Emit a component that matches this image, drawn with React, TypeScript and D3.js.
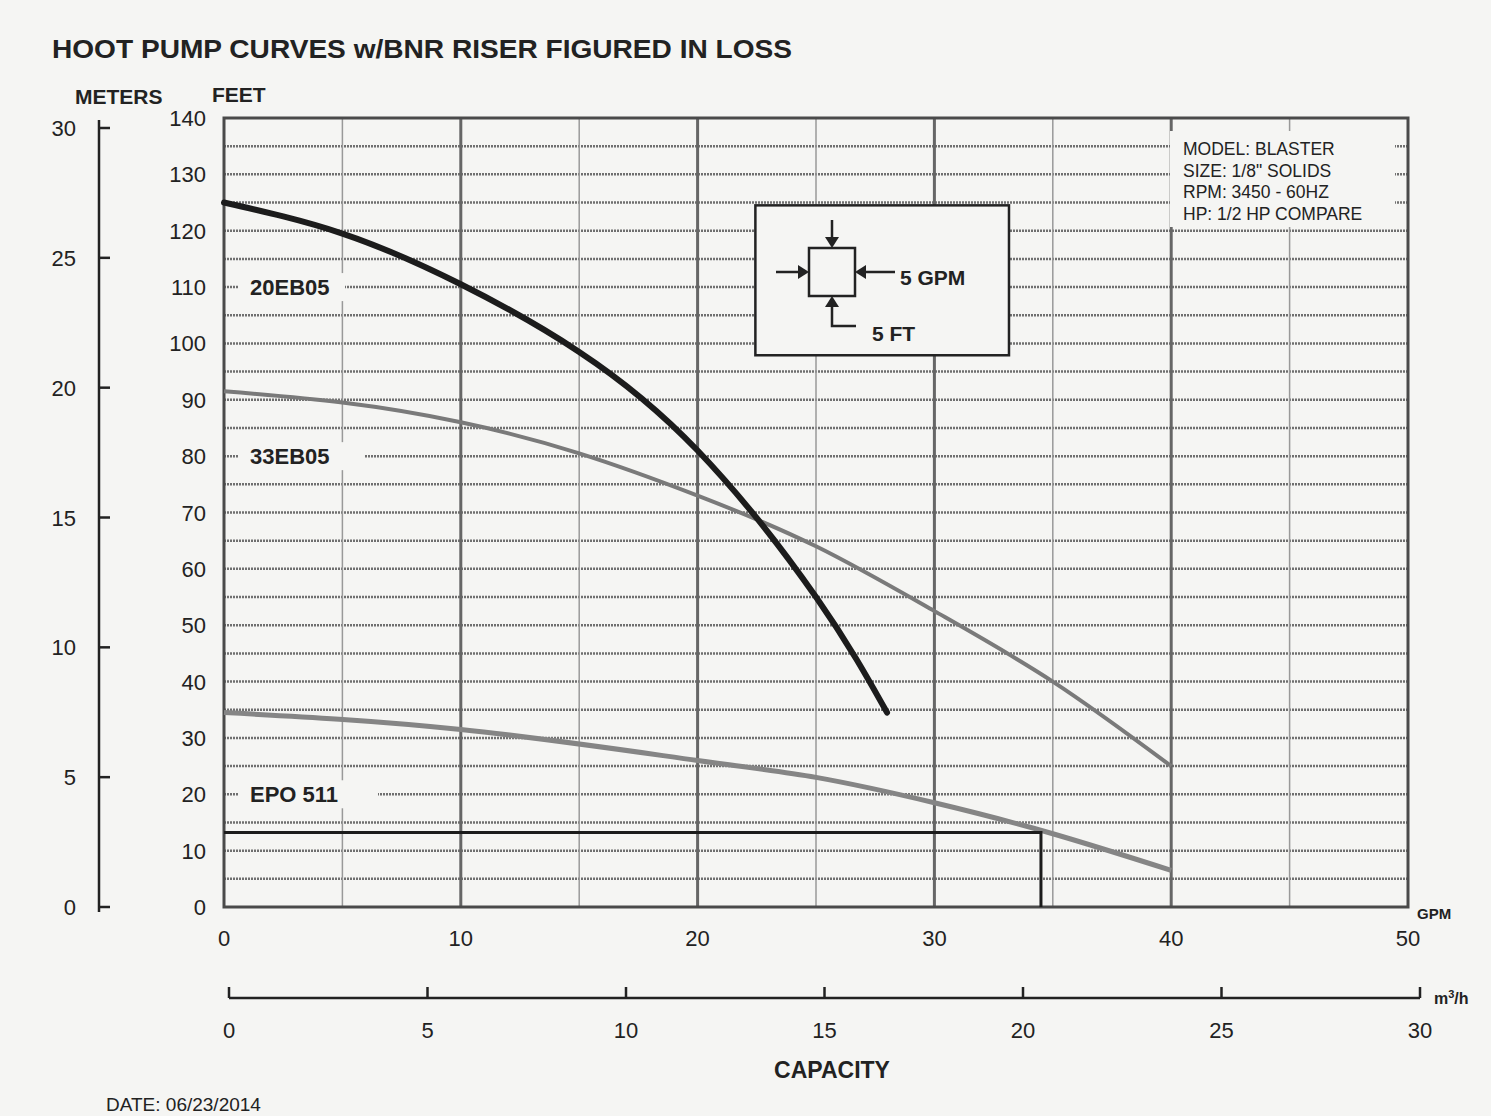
import React from "react";
import * as d3 from "d3";

const width = 1491,
  height = 1116;

// curve points: [gpm, feet]
const pump20EB05 = [
  [0, 125], [5, 119.5], [10, 110.5], [15, 98.5], [20, 81], [25, 55], [28, 34.5],
];
const pump33EB05 = [
  [0, 91.5], [5, 89.5], [10, 86], [15, 80.5], [20, 73], [25, 64], [30, 52.5], [35, 40], [40, 25],
];
const pumpEPO511 = [
  [0, 34.5], [10, 31.5], [20, 26], [25, 23], [30, 18.5], [35, 13], [40, 6.5],
];
const dutyPoint = [34.5, 13.2];

const feetTicks = [0, 10, 20, 30, 40, 50, 60, 70, 80, 90, 100, 110, 120, 130, 140];
const meterTicks = [0, 5, 10, 15, 20, 25, 30];
const gpmTicks = [0, 10, 20, 30, 40, 50];
const m3hTicks = [0, 5, 10, 15, 20, 25, 30];
const specLines = ["MODEL: BLASTER", "SIZE: 1/8\" SOLIDS", "RPM: 3450 - 60HZ", "HP: 1/2 HP COMPARE"];

const font = "'Liberation Sans', Arial, sans-serif";
const ink = "#222";
const paper = "#f5f5f3";

const App = () => {
  const x = d3.scaleLinear().domain([0, 50]).range([224, 1408]);
  const y = d3.scaleLinear().domain([0, 140]).range([907, 118]);
  const yM = d3.scaleLinear().domain([0, 30]).range([907, 128]);
  const xM = d3.scaleLinear().domain([0, 30]).range([229, 1420]);

  const line = d3
    .line<number[]>()
    .x((d) => x(d[0]))
    .y((d) => y(d[1]))
    .curve(d3.curveNatural);

  const hLines = d3.range(5, 140, 5);
  const vLines = d3.range(5, 50, 5);

  const labelBox = (text: string, ft: number, w: number) => (
    <g>
      <rect x={238} y={y(ft) - 14} width={w} height={28} fill={paper} />
      <text x={250} y={y(ft) + 8} fontSize={22} fontWeight="bold" fill={ink}>
        {text}
      </text>
    </g>
  );

  return (
    <svg
      width={width}
      height={height}
      style={{ position: "absolute", left: 0, top: 0 }}
      fontFamily={font}
    >
      <rect width={width} height={height} fill={paper} />

      <text x={52} y={58} fontSize={26} fontWeight="bold" fill={ink} textLength={740} lengthAdjust="spacingAndGlyphs">
        HOOT PUMP CURVES w/BNR RISER FIGURED IN LOSS
      </text>

      {/* grid */}
      <g>
        {hLines.map((v) => (
          <line key={"h" + v} x1={x(0)} x2={x(50)} y1={y(v)} y2={y(v)} stroke="#6f6f6f" strokeWidth={2.5} strokeDasharray="2 1" />
        ))}
        {vLines.map((v) => (
          <line
            key={"v" + v}
            x1={x(v)}
            x2={x(v)}
            y1={y(140)}
            y2={y(0)}
            stroke={v % 10 === 0 ? "#666" : "#999"}
            strokeWidth={v % 10 === 0 ? 3 : 1.5}
          />
        ))}
        <rect x={x(0)} y={y(140)} width={x(50) - x(0)} height={y(0) - y(140)} fill="none" stroke="#4a4a4a" strokeWidth={3} />
      </g>

      {/* curve labels */}
      {labelBox("20EB05", 110, 107)}
      {labelBox("33EB05", 80, 127)}
      {labelBox("EPO 511", 20, 140)}

      {/* spec block */}
      <rect x={1170} y={131} width={225} height={96} fill={paper} />
      {specLines.map((s, i) => (
        <text key={s} x={1183} y={155 + i * 21.5} fontSize={17.5} fill={ink}>
          {s}
        </text>
      ))}

      {/* inset legend */}
      <g stroke={ink} fill="none" strokeWidth={2.5}>
        <rect x={x(22.44)} y={y(124.5)} width={x(33.15) - x(22.44)} height={y(97.9) - y(124.5)} fill={paper} />
        <rect x={809} y={248} width={46} height={48} />
        <line x1={832} y1={220} x2={832} y2={240} />
        <line x1={776} y1={272} x2={802} y2={272} />
        <line x1={895} y1={272} x2={862} y2={272} />
        <polyline points="832,304 832,326 856,326" />
      </g>
      <g fill={ink}>
        <path d="M825,237 L839,237 L832,248 Z" />
        <path d="M798,265 L798,279 L809,272 Z" />
        <path d="M866,265 L866,279 L855,272 Z" />
        <path d="M825,307 L839,307 L832,296 Z" />
      </g>
      <text x={900} y={285} fontSize={21} fontWeight="bold" fill={ink}>5 GPM</text>
      <text x={872} y={341} fontSize={21} fontWeight="bold" fill={ink}>5 FT</text>

      {/* curves */}
      <path d={line(pumpEPO511) ?? ""} fill="none" stroke="#858585" strokeWidth={5} />
      <path d={line(pump33EB05) ?? ""} fill="none" stroke="#7a7a7a" strokeWidth={4} />
      <path d={line(pump20EB05) ?? ""} fill="none" stroke="#1c1c1c" strokeWidth={6} strokeLinecap="round" />

      {/* duty point */}
      <polyline
        points={`${x(0)},${y(dutyPoint[1])} ${x(dutyPoint[0])},${y(dutyPoint[1])} ${x(dutyPoint[0])},${y(0)}`}
        fill="none"
        stroke="#1c1c1c"
        strokeWidth={3}
      />

      {/* axis titles */}
      <text x={75} y={104} fontSize={21} fontWeight="bold" fill={ink}>METERS</text>
      <text x={212} y={102} fontSize={21} fontWeight="bold" fill={ink}>FEET</text>

      {/* feet axis */}
      {feetTicks.map((t) => (
        <text key={"f" + t} x={206} y={y(t) + 8} fontSize={22} textAnchor="end" fill={ink}>
          {t}
        </text>
      ))}

      {/* meters axis */}
      <line x1={99} x2={99} y1={yM(30) - 8} y2={yM(0) + 5} stroke={ink} strokeWidth={2.5} />
      {meterTicks.map((t) => (
        <g key={"m" + t}>
          <line x1={99} x2={110} y1={yM(t)} y2={yM(t)} stroke={ink} strokeWidth={2.5} />
          <text x={76} y={yM(t) + 8} fontSize={22} textAnchor="end" fill={ink}>
            {t}
          </text>
        </g>
      ))}

      {/* gpm axis */}
      {gpmTicks.map((t) => (
        <text key={"g" + t} x={x(t)} y={946} fontSize={22} textAnchor="middle" fill={ink}>
          {t}
        </text>
      ))}
      <text x={1417} y={919} fontSize={15} fontWeight="bold" fill={ink}>GPM</text>

      {/* m3/h axis */}
      <line x1={xM(0)} x2={xM(30)} y1={998} y2={998} stroke={ink} strokeWidth={2.5} />
      {m3hTicks.map((t) => (
        <g key={"c" + t}>
          <line x1={xM(t)} x2={xM(t)} y1={998} y2={987} stroke={ink} strokeWidth={2.5} />
          <text x={xM(t)} y={1038} fontSize={22} textAnchor="middle" fill={ink}>
            {t}
          </text>
        </g>
      ))}
      <text x={1434} y={1004} fontSize={16} fontWeight="bold" fill={ink}>
        m<tspan dy={-6} fontSize={11}>3</tspan>
        <tspan dy={6}>/h</tspan>
      </text>

      <text x={832} y={1078} fontSize={23} fontWeight="bold" textAnchor="middle" fill={ink}>CAPACITY</text>
      <text x={106} y={1111} fontSize={19} fill={ink}>DATE: 06/23/2014</text>
    </svg>
  );
};

export default App;
